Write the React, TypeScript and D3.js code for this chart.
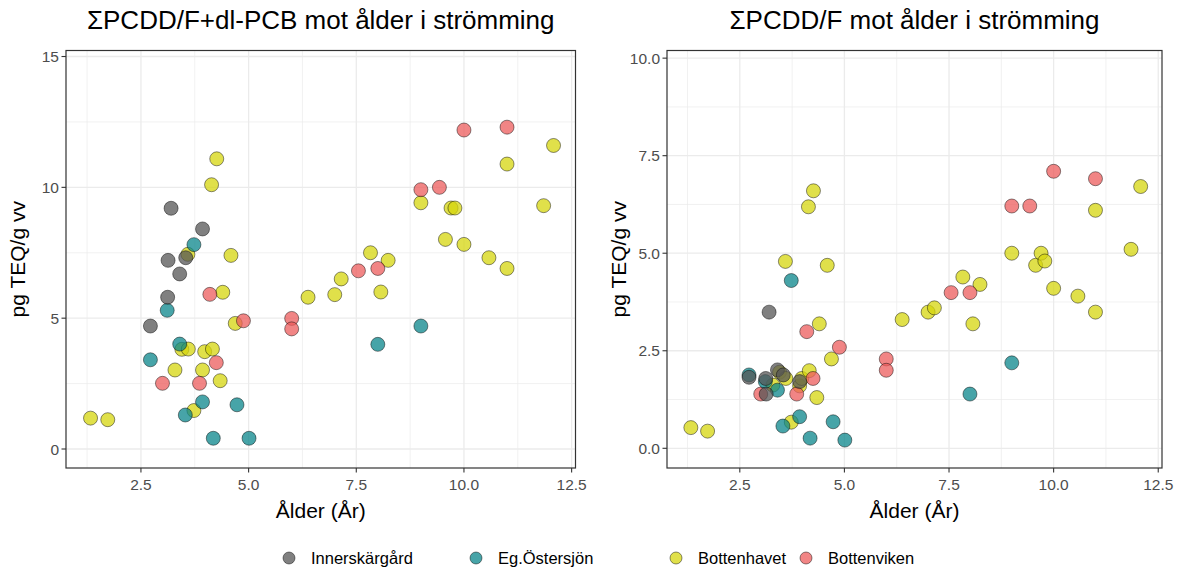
import React from "react";
import * as d3 from "d3";

// ---- Data (age in years, pg TEQ/g ww) ----
const groups = ["Innerskärgård", "Eg.Östersjön", "Bottenhavet", "Bottenviken"];

const innerAge = [2.72, 3.12, 3.13, 3.2, 3.4, 3.54, 3.93];
const innerTotal = [4.7, 5.8, 7.21, 9.2, 6.69, 7.31, 8.41];
const innerPcdd = [1.82, 1.79, 1.39, 3.49, 2.01, 1.88, 1.71];

const egAge = [2.72, 3.11, 3.4, 3.53, 3.73, 3.93, 4.18, 4.73, 5.01, 8.0, 9.0];
const egTotal = [3.41, 5.3, 4.01, 1.3, 7.81, 1.8, 0.41, 1.69, 0.41, 4.0, 4.7];
const egPcdd = [1.88, 1.71, 1.49, 0.57, 4.3, 0.81, 0.26, 0.68, 0.21, 1.39, 2.19];

const bhAge = [1.33, 1.73, 3.29, 3.45, 3.59, 3.6, 3.73, 3.93, 3.98, 4.14, 4.16, 4.26, 4.34, 4.4, 4.59, 4.69,
  6.38, 7.0, 7.15, 7.83, 8.07, 8.24, 9.0, 9.57, 9.7, 9.79, 10.0, 10.58, 11.0, 11.0, 11.85, 12.08];
const bhTotal = [1.18, 1.12, 3.02, 3.81, 7.44, 3.82, 1.47, 3.02, 3.72, 10.1, 3.82, 11.09, 2.61, 5.99, 7.4, 4.8,
  5.8, 5.9, 6.5, 7.5, 6.0, 7.21, 9.41, 8.01, 9.21, 9.21, 7.82, 7.31, 10.89, 6.9, 9.3, 11.6];
const bhPcdd = [0.53, 0.44, 1.62, 1.95, 4.79, 1.79, 0.67, 1.6, 1.79, 6.19, 1.99, 6.6, 1.3, 3.19, 4.69, 2.29,
  3.3, 3.49, 3.6, 4.39, 3.19, 4.2, 5.0, 4.69, 5.0, 4.8, 4.1, 3.9, 6.1, 3.49, 5.1, 6.71];

const bvAge = [3.0, 3.86, 4.1, 4.25, 4.88, 6.0, 6.0, 7.55, 8.0, 9.0, 9.43, 10.0, 11.0];
const bvTotal = [2.51, 2.51, 5.91, 3.3, 4.9, 4.99, 4.59, 6.81, 6.9, 9.91, 10.0, 12.19, 12.3];
const bvPcdd = [1.39, 1.39, 2.99, 1.79, 2.59, 2.29, 2.0, 3.99, 3.99, 6.21, 6.21, 7.1, 6.91];

const xTicks = [2.5, 5.0, 7.5, 10.0, 12.5];
const xMinor = [1.25, 3.75, 6.25, 8.75, 11.25];
const leftYTicks = [0, 5, 10, 15];
const leftYMinor = [2.5, 7.5, 12.5];
const rightYTicks = [0, 2.5, 5, 7.5, 10];
const rightYMinor = [1.25, 3.75, 6.25, 8.75];

const titles = ["\u03A3PCDD/F+dl-PCB mot ålder i strömming", "\u03A3PCDD/F mot ålder i strömming"];
const xTitle = "Ålder (År)";
const yTitle = "pg TEQ/g vv";

const colors = ["#555555", "#0a868b", "#d6d60e", "#ec5c5c"];

const FONT = "'Liberation Sans', Arial, sans-serif";

type Pt = { x: number; y: number; g: number };

function buildPoints(which: "total" | "pcdd"): Pt[] {
  const sets: [number[], number[], number[], number][] = [
    [bhAge, bhTotal, bhPcdd, 2],
    [bvAge, bvTotal, bvPcdd, 3],
    [egAge, egTotal, egPcdd, 1],
    [innerAge, innerTotal, innerPcdd, 0],
  ];
  const pts: Pt[] = [];
  for (const [a, t, p, g] of sets) {
    a.forEach((x, i) => pts.push({ x, y: which === "total" ? t[i] : p[i], g }));
  }
  return pts;
}

type PanelProps = {
  x0: number; x1: number; y0: number; y1: number;
  yDomain: [number, number];
  yTicks: number[]; yMinor: number[];
  yFmt: (v: number) => string;
  pts: Pt[]; title: string;
};

function Panel(p: PanelProps) {
  const xs = d3.scaleLinear().domain([0.76, 12.59]).range([p.x0, p.x1]);
  const ys = d3.scaleLinear().domain(p.yDomain).range([p.y1, p.y0]);
  const cx = (p.x0 + p.x1) / 2;
  const cy = (p.y0 + p.y1) / 2;
  return (
    <g>
      <rect x={p.x0} y={p.y0} width={p.x1 - p.x0} height={p.y1 - p.y0} fill="#ffffff" />
      {xMinor.map((v) => (
        <line key={"xm" + v} x1={xs(v)} x2={xs(v)} y1={p.y0} y2={p.y1} stroke="#ebebeb" strokeWidth={0.7} />
      ))}
      {p.yMinor.map((v) => (
        <line key={"ym" + v} x1={p.x0} x2={p.x1} y1={ys(v)} y2={ys(v)} stroke="#ebebeb" strokeWidth={0.7} />
      ))}
      {xTicks.map((v) => (
        <line key={"xg" + v} x1={xs(v)} x2={xs(v)} y1={p.y0} y2={p.y1} stroke="#ebebeb" strokeWidth={1.3} />
      ))}
      {p.yTicks.map((v) => (
        <line key={"yg" + v} x1={p.x0} x2={p.x1} y1={ys(v)} y2={ys(v)} stroke="#ebebeb" strokeWidth={1.3} />
      ))}
      {p.pts.map((d, i) => (
        <circle key={i} cx={xs(d.x)} cy={ys(d.y)} r={7} fill={colors[d.g]} fillOpacity={0.75}
          stroke="#000000" strokeOpacity={0.75} strokeWidth={0.6} />
      ))}
      <rect x={p.x0} y={p.y0} width={p.x1 - p.x0} height={p.y1 - p.y0} fill="none" stroke="#333333" strokeWidth={1.2} />
      {xTicks.map((v) => (
        <g key={"xt" + v}>
          <line x1={xs(v)} x2={xs(v)} y1={p.y1} y2={p.y1 + 4.5} stroke="#333333" strokeWidth={1.1} />
          <text x={xs(v)} y={p.y1 + 22} textAnchor="middle" fontSize={15.5} fill="#4d4d4d" fontFamily={FONT}>
            {v.toFixed(1)}
          </text>
        </g>
      ))}
      {p.yTicks.map((v) => (
        <g key={"yt" + v}>
          <line x1={p.x0 - 4.5} x2={p.x0} y1={ys(v)} y2={ys(v)} stroke="#333333" strokeWidth={1.1} />
          <text x={p.x0 - 7} y={ys(v) + 5.5} textAnchor="end" fontSize={15.5} fill="#4d4d4d" fontFamily={FONT}>
            {p.yFmt(v)}
          </text>
        </g>
      ))}
      <text x={cx} y={p.y1 + 50} textAnchor="middle" fontSize={21} fill="#000" fontFamily={FONT}>{xTitle}</text>
      <text transform={`translate(${p.x0 - 41},${cy}) rotate(-90)`} textAnchor="middle" fontSize={21} fill="#000" fontFamily={FONT}>
        {yTitle}
      </text>
      <text x={cx} y={29} textAnchor="middle" fontSize={26} fill="#000" fontFamily={FONT}>{p.title}</text>
    </g>
  );
}

const legendX = [289, 476, 676, 806];

export default function App() {
  const top = 50.5, bottom = 468;
  return (
    <svg width={1183} height={568} style={{ position: "absolute", left: 0, top: 0, background: "#fff" }}>
      <rect x={0} y={0} width={1183} height={568} fill="#ffffff" />
      <Panel x0={66} x1={575.5} y0={top} y1={bottom} yDomain={[-0.726, 15.23]}
        yTicks={leftYTicks} yMinor={leftYMinor} yFmt={(v) => String(v)} pts={buildPoints("total")} title={titles[0]} />
      <Panel x0={667} x1={1162} y0={top} y1={bottom} yDomain={[-0.505, 10.196]}
        yTicks={rightYTicks} yMinor={rightYMinor} yFmt={(v) => v.toFixed(1)} pts={buildPoints("pcdd")} title={titles[1]} />
      {groups.map((g, i) => (
        <g key={g}>
          <circle cx={legendX[i]} cy={558} r={6} fill={colors[i]} fillOpacity={0.75} stroke="#000" strokeOpacity={0.75} strokeWidth={0.6} />
          <text x={legendX[i] + 22} y={564} fontSize={16.5} fill="#000" fontFamily={FONT}>{g}</text>
        </g>
      ))}
    </svg>
  );
}
